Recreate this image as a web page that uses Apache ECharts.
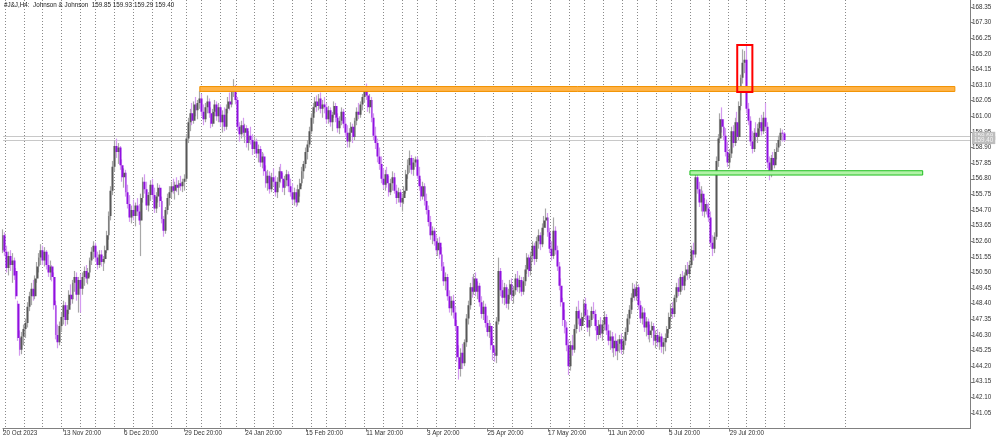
<!DOCTYPE html>
<html><head><meta charset="utf-8">
<script src="https://cdn.jsdelivr.net/npm/echarts@6/dist/echarts.min.js"></script>
<style>html,body{margin:0;padding:0;background:#fff}#c{width:1000px;height:441px}</style>
</head><body><div id="c"></div>
<script>
// H4 bars, 20 Oct 2023 .. 19 Aug 2024 (one line per week)
const opens = [
152.0,153.0,151.9,150.8,151.6,151.0,151.3,150.6,148.4,146.1,145.3,
146.2,146.7,147.1,148.2,148.9,149.4,148.9,150.1,150.9,151.5,
152.0,151.3,151.9,151.0,150.5,150.9,150.2,148.3,146.3,145.8,
146.9,147.5,148.3,147.3,148.0,149.0,148.7,149.8,150.2,149.0,
150.0,149.4,150.2,150.6,150.1,150.5,151.3,151.9,
152.3,151.5,151.0,151.7,151.2,151.4,152.0,153.0,154.3,156.0,
157.6,159.0,158.6,158.9,157.7,156.9,157.2,155.9,155.1,154.2,
154.7,154.3,155.0,154.6,154.0,155.5,156.6,156.1,155.0,155.7,
156.4,155.7,154.8,155.6,156.2,155.3,154.1,153.3,154.7,155.5,
155.9,156.3,156.0,156.4,156.2,156.5,156.3,156.6,
156.8,159.5,160.6,161.2,160.7,161.8,161.4,161.9,
162.2,161.3,160.8,161.6,162.0,161.2,160.5,161.3,161.8,161.0,
161.6,160.6,161.1,160.3,161.5,162.0,161.8,162.7,
162.9,162.1,160.3,159.8,160.4,159.9,160.2,159.2,159.7,159.4,
158.8,159.3,158.5,158.8,157.9,158.3,157.3,156.5,157.0,156.1,
156.9,156.6,155.9,156.6,157.3,156.8,156.2,156.7,157.1,156.3,
155.9,155.4,155.9,155.2,156.1,156.5,157.3,157.8,158.6,159.1,
160.0,160.9,161.6,162.0,161.7,162.2,161.5,161.8,
161.6,160.8,161.4,160.6,161.1,161.7,160.9,160.2,160.7,161.3,
160.5,159.9,159.3,159.9,160.3,159.6,160.7,161.3,161.1,161.8,
162.3,162.7,162.4,161.6,162.1,160.9,159.7,159.2,158.3,157.8,
156.8,156.4,157.1,156.5,155.9,156.5,156.9,156.0,155.5,155.9,
155.2,155.5,156.0,157.1,157.7,158.2,157.4,157.9,
158.1,157.0,156.3,155.6,156.3,155.3,154.7,153.9,153.0,153.3,
152.6,152.0,152.5,151.7,150.9,149.9,150.2,148.9,148.1,148.6,
147.8,146.9,144.8,144.0,145.1,144.4,145.8,147.4,148.3,149.5,
149.2,150.1,149.2,149.6,148.5,147.7,148.2,147.1,146.5,146.9,
145.6,145.1,144.9,147.2,150.6,149.3,148.8,149.5,148.4,149.0,
149.7,148.9,149.3,150.1,149.5,150.0,149.2,149.9,150.7,151.5,
150.6,151.6,152.3,151.4,152.6,153.0,152.4,153.5,154.0,154.2,
153.2,152.1,151.6,153.3,152.0,150.9,149.6,148.5,147.3,146.8,
145.6,144.2,145.6,145.3,146.7,147.9,147.4,146.9,
147.5,148.4,147.6,146.8,147.3,147.9,147.7,146.9,146.3,147.0,
146.4,147.0,147.5,146.6,145.9,146.2,145.4,145.9,145.2,145.7,
146.0,145.3,145.9,146.5,147.4,148.0,148.8,149.4,
148.9,149.5,148.3,147.4,147.8,146.8,147.2,146.3,146.6,146.9,
145.9,146.3,145.8,146.2,145.5,145.8,146.1,146.7,
147.5,148.1,147.7,148.8,149.5,149.2,150.2,149.6,150.3,150.7,
150.4,151.0,152.0,151.7,156.9,156.1,155.2,155.8,154.6,155.1,
154.8,154.2,152.5,152.1,152.9,158.0,159.5,160.8,160.3,159.7,
158.6,157.9,158.5,160.0,159.2,160.6,159.6,161.7,163.6,164.6,
164.8,161.5,160.7,159.3,158.8,159.9,159.6,160.2,160.6,160.0,
160.9,160.3,157.9,157.1,158.2,157.7,158.6,158.9,159.4,159.9,159.85
];
const highs = [
153.4,153.2,152.3,151.9,152.0,151.8,151.5,150.8,148.6,146.6,146.5,
147.0,147.4,148.5,149.2,149.8,150.0,150.3,151.2,151.8,152.4,
152.3,152.2,152.0,151.7,151.3,151.0,150.5,148.6,147.0,147.2,
147.8,148.6,148.5,148.3,149.3,149.7,150.0,150.6,150.5,150.2,
150.4,150.5,150.9,151.0,150.8,151.5,152.2,152.6,
152.5,151.9,152.0,152.0,151.6,152.3,153.3,154.6,156.3,158.0,
159.4,159.5,159.2,159.0,158.1,157.5,157.4,156.4,155.7,155.0,
155.4,155.2,155.5,155.1,155.8,156.9,157.1,156.6,155.9,156.7,
156.8,156.2,155.9,156.5,156.4,155.6,154.3,154.9,155.8,156.3,
156.6,156.8,156.6,156.9,156.7,157.0,156.8,157.1,
159.8,160.9,161.5,161.9,162.0,162.3,162.1,162.7,
162.5,161.8,161.9,162.4,162.2,161.6,161.5,162.1,162.0,161.9,
161.8,161.4,161.6,161.8,162.3,162.6,163.0,163.5,
163.1,162.3,160.6,160.7,160.9,160.5,160.4,160.0,160.3,159.8,
159.6,159.5,159.1,159.0,158.6,158.5,157.7,157.4,157.3,157.2,
157.5,157.0,156.9,157.6,157.8,157.2,157.0,157.4,157.3,156.8,
156.5,156.2,156.1,156.4,156.8,157.6,158.0,158.9,159.4,160.3,
161.2,161.9,162.3,162.4,162.5,162.6,162.1,162.3,
161.9,161.7,161.6,161.3,162.0,161.9,161.2,161.0,161.6,161.5,
160.9,160.4,160.2,160.6,160.5,160.9,161.6,161.9,162.0,162.5,
163.0,163.2,162.8,162.5,162.3,161.2,160.3,159.5,158.9,158.3,
157.5,157.4,157.6,157.0,156.8,157.3,157.2,156.4,156.2,156.1,
155.8,156.3,157.4,158.1,158.7,158.4,158.2,158.3,
158.3,157.6,156.8,156.6,156.5,155.8,155.0,154.3,153.6,153.5,
153.0,152.8,152.9,152.2,151.2,150.5,150.4,149.3,148.9,149.0,
148.2,147.3,145.6,145.4,145.7,146.0,147.7,148.6,149.8,150.2,
150.4,150.5,149.9,149.8,148.9,148.6,148.4,147.6,147.3,147.1,
146.2,145.4,147.5,151.5,150.8,150.0,149.8,149.7,149.4,150.0,
150.1,149.6,150.4,150.6,150.3,150.2,150.2,151.0,151.8,151.7,
151.9,152.6,152.5,152.9,153.4,153.2,153.8,154.3,154.8,154.5,
153.5,152.6,154.2,153.6,152.3,151.2,150.1,148.8,148.0,147.2,
146.0,145.9,146.3,147.0,148.2,148.6,148.0,147.8,
148.7,148.8,148.0,147.6,148.2,148.5,148.0,147.3,147.3,147.5,
147.3,147.9,147.7,147.0,146.6,146.5,146.2,146.4,146.0,146.3,
146.4,146.2,146.8,147.7,148.3,149.1,149.8,149.7,
149.9,149.7,148.6,148.2,148.1,147.5,147.4,147.0,147.2,147.1,
146.6,146.7,146.5,146.4,146.1,146.4,146.9,147.8,
148.4,148.5,149.0,149.8,150.1,150.4,150.6,150.5,151.0,151.2,
151.3,152.3,152.5,157.3,157.2,156.6,156.3,156.0,155.5,155.4,
155.2,154.6,153.0,153.2,158.3,159.8,161.2,161.6,160.8,160.2,
159.3,158.8,160.3,160.4,160.9,161.3,162.0,163.8,165.5,165.4,
165.8,161.9,161.0,160.0,160.2,160.6,160.5,160.9,161.1,161.3,
161.9,160.6,158.3,158.4,158.6,158.8,159.2,159.7,160.2,160.1,159.93
];
const lows = [
151.8,151.6,150.5,150.3,150.6,149.8,150.0,148.7,145.9,144.9,145.0,
145.6,146.1,146.8,147.9,148.3,148.6,148.7,149.8,150.5,151.0,
151.0,150.9,150.7,150.2,150.0,149.9,148.0,146.0,145.4,145.6,
146.5,147.0,146.9,147.0,147.7,148.3,148.4,149.2,148.6,147.8,
147.8,149.0,149.6,149.8,149.7,150.2,151.0,151.4,
151.2,150.7,150.8,150.9,150.6,151.1,151.8,152.7,154.0,155.7,
157.3,158.2,157.8,157.4,156.6,156.2,155.6,154.8,153.9,153.8,
154.0,153.6,154.3,153.7,151.6,155.2,155.8,154.7,154.6,155.3,
155.4,154.5,154.5,155.2,154.9,153.8,152.9,153.1,154.4,155.0,
155.5,155.8,155.4,155.9,155.7,156.0,155.9,156.0,
156.6,159.2,160.0,160.4,160.5,161.0,160.8,161.5,
161.0,160.4,160.6,161.2,160.9,160.2,160.3,161.0,160.7,160.6,
160.3,159.9,160.0,160.1,161.2,161.4,161.6,162.3,
161.8,160.0,159.3,159.5,159.6,159.2,158.9,158.7,159.1,158.4,
158.5,158.2,157.9,157.6,157.5,157.0,156.2,156.0,155.8,155.9,
156.3,155.6,155.5,156.2,156.5,155.9,155.7,156.3,155.9,155.6,
155.1,155.0,154.9,155.0,155.6,156.3,156.8,157.5,158.1,158.9,
159.8,160.5,161.2,161.3,161.4,161.2,160.9,161.2,
160.5,160.5,160.3,160.0,160.9,160.6,159.9,159.8,160.4,160.2,
159.6,158.9,158.9,159.3,159.2,159.4,160.4,160.8,160.9,161.4,
161.9,162.1,161.3,161.2,160.6,159.4,158.8,157.9,157.4,156.5,
156.1,156.0,156.2,155.6,155.7,156.0,155.8,155.1,155.2,154.9,
154.6,155.1,155.8,156.8,157.2,157.1,157.0,157.6,
156.8,156.0,155.3,155.4,155.0,154.4,153.6,152.7,152.4,152.3,
151.7,151.6,151.4,150.6,149.6,149.3,148.6,147.8,147.6,147.4,
146.6,144.5,143.3,143.5,144.0,144.2,145.5,147.0,148.0,148.8,
149.0,148.9,148.7,148.2,147.4,147.3,146.8,146.2,146.1,145.3,
144.6,144.5,144.4,147.0,148.9,148.4,148.3,148.1,148.0,148.7,
148.6,148.4,149.0,149.2,149.1,148.9,149.0,149.6,150.4,150.2,
150.3,151.2,151.0,151.2,152.1,152.0,152.2,153.0,153.5,152.9,
151.8,151.3,151.4,151.7,150.6,149.3,148.2,146.9,146.4,145.2,
143.6,143.9,144.9,145.1,146.4,147.0,146.5,146.6,
147.2,147.3,146.5,146.2,146.9,147.4,146.6,145.9,146.0,146.1,
145.9,146.6,146.3,145.6,145.3,145.1,144.8,144.9,144.6,145.1,
145.0,145.0,145.6,146.3,147.0,147.7,148.5,148.6,
148.6,148.0,147.1,147.0,146.5,146.2,146.0,145.8,146.1,145.6,
145.4,145.5,145.3,145.1,145.0,145.2,145.8,146.4,
147.2,147.4,147.5,148.5,148.9,149.0,149.3,149.3,149.9,150.0,
150.1,150.8,151.3,151.5,155.8,154.9,154.6,154.3,154.2,154.4,
153.9,152.2,151.6,151.8,152.7,157.6,159.2,159.9,159.4,158.3,
157.6,157.5,158.2,158.9,159.0,159.2,159.4,161.4,163.2,163.9,
161.2,160.4,159.0,158.5,158.6,159.3,159.2,159.7,159.7,159.8,
160.0,157.5,156.7,156.9,157.4,157.5,158.1,158.6,159.0,159.3,159.29
];
const closes = [
153.0,151.9,150.8,151.6,151.0,151.3,150.3,148.9,146.1,145.3,146.2,
146.7,147.1,148.2,148.9,149.4,148.9,150.1,150.9,151.5,152.0,
151.3,151.9,151.0,150.5,150.9,150.2,148.3,146.3,145.8,146.9,
147.5,148.3,147.3,148.0,149.0,148.7,149.8,150.2,149.0,150.0,
149.4,150.2,150.6,150.1,150.5,151.3,151.9,152.3,
151.5,151.0,151.7,151.2,151.4,152.0,153.0,154.3,156.0,157.6,
159.0,158.6,158.9,157.7,156.9,157.2,155.9,155.1,154.2,154.7,
154.3,155.0,154.6,154.0,155.5,156.6,156.1,155.0,155.7,156.4,
155.7,154.8,155.6,156.2,155.3,154.1,153.3,154.7,155.5,155.9,
156.3,156.0,156.4,156.2,156.5,156.3,156.6,156.8,
159.5,160.6,161.2,160.7,161.8,161.4,161.9,162.2,
161.3,160.8,161.6,162.0,161.2,160.5,161.3,161.8,161.0,161.6,
160.6,161.1,160.3,161.5,162.0,161.8,162.7,162.9,
162.1,160.3,159.8,160.4,159.9,160.2,159.2,159.7,159.4,158.8,
159.3,158.5,158.8,157.9,158.3,157.3,156.5,157.0,156.1,156.9,
156.6,155.9,156.6,157.3,156.8,156.2,156.7,157.1,156.3,155.9,
155.4,155.9,155.2,156.1,156.5,157.3,157.8,158.6,159.1,160.0,
160.9,161.6,162.0,161.7,162.2,161.5,161.8,161.6,
160.8,161.4,160.6,161.1,161.7,160.9,160.2,160.7,161.3,160.5,
159.9,159.3,159.9,160.3,159.6,160.7,161.3,161.1,161.8,162.3,
162.7,162.4,161.6,162.1,160.9,159.7,159.2,158.3,157.8,156.8,
156.4,157.1,156.5,155.9,156.5,156.9,156.0,155.5,155.9,155.2,
155.5,156.0,157.1,157.7,158.2,157.4,157.9,158.1,
157.0,156.3,155.6,156.3,155.3,154.7,153.9,153.0,153.3,152.6,
152.0,152.5,151.7,150.9,149.9,150.2,148.9,148.1,148.6,147.8,
146.9,144.8,144.0,145.1,144.4,145.8,147.4,148.3,149.5,149.2,
150.1,149.2,149.6,148.5,147.7,148.2,147.1,146.5,146.9,145.6,
145.1,144.9,147.2,150.6,149.3,148.8,149.5,148.4,149.0,149.7,
148.9,149.3,150.1,149.5,150.0,149.2,149.9,150.7,151.5,150.6,
151.6,152.3,151.4,152.6,153.0,152.4,153.5,154.0,154.2,153.2,
152.1,151.6,153.3,152.0,150.9,149.6,148.5,147.3,146.8,145.6,
144.2,145.6,145.3,146.7,147.9,147.4,146.9,147.5,
148.4,147.6,146.8,147.3,147.9,147.7,146.9,146.3,147.0,146.4,
147.0,147.5,146.6,145.9,146.2,145.4,145.9,145.2,145.7,146.0,
145.3,145.9,146.5,147.4,148.0,148.8,149.4,148.9,
149.5,148.3,147.4,147.8,146.8,147.2,146.3,146.6,146.9,145.9,
146.3,145.8,146.2,145.5,145.8,146.1,146.7,147.5,
148.1,147.7,148.8,149.5,149.2,150.2,149.6,150.3,150.7,150.4,
151.0,152.0,151.7,156.9,156.1,155.2,155.8,154.6,155.1,154.8,
154.2,152.5,152.1,152.9,158.0,159.5,160.8,160.3,159.7,158.6,
157.9,158.5,160.0,159.2,160.6,159.6,161.7,163.6,164.6,164.8,
161.5,160.7,159.3,158.8,159.9,159.6,160.2,160.6,160.0,160.9,
160.3,157.9,157.1,158.2,157.7,158.6,158.9,159.4,159.9,159.85,159.40
];

// time axis: bar slots (candles + empty shift area on the right)
const slotCount = 512;
const tickLabels = ['20 Oct 2023','13 Nov 20:00','6 Dec 20:00','29 Dec 20:00','24 Jan 20:00','15 Feb 20:00','11 Mar 20:00','3 Apr 20:00','25 Apr 20:00','17 May 20:00','11 Jun 20:00','5 Jul 20:00','29 Jul 20:00'];
const tickBars = [0,32,64,96,128,160,192,224,256,288,320,352,384];
const weekStarts = [1,11,21,31,41,49,59,69,79,89,97,105,115,123,133,143,153,163,171,181,191,201,211,219,229,239,249,259,269,279,289,299,307,317,327,335,345,353,363,373,383,393,403,413,445];

// drawn objects
const orangeZone = {from: 104, to: 503, low: 162.67, high: 163.00};
const greenZone  = {from: 363, to: 486, low: 157.05, high: 157.34};
const redBox     = {from: 388, to: 396, low: 162.63, high: 165.79};
const bidPrice = 159.40, askPrice = 159.69;
const headerText = '#J&J,H4:  Johnson & Johnson  159.85 159.93 159.29 159.40';

const categories = Array.from({length: slotCount}, (_, i) => String(i));
const ohlc = opens.map((o, i) => [o, closes[i], lows[i], highs[i]]);
const tickMap = {}; tickBars.forEach((b, k) => tickMap[b] = tickLabels[k]);
const weekSet = new Set(weekStarts);

const FONT = 'Liberation Sans, Arial, sans-serif';
const chart = echarts.init(document.getElementById('c'), null, {renderer: 'canvas'});
chart.setOption({
  animation: false,
  backgroundColor: '#ffffff',
  title: {text: headerText, left: 4, top: 2, padding: 0,
    textStyle: {fontSize: 6.3, fontWeight: 'normal', color: '#222', fontFamily: FONT}},
  grid: {left: 1, right: 30, top: 0, bottom: 12.4, containLabel: false},
  xAxis: {
    type: 'category', data: categories, boundaryGap: false,
    axisLine: {show: true, lineStyle: {color: '#808080', width: 1}},
    axisTick: {show: true, length: 3, interval: (i) => tickMap[i] !== undefined, lineStyle: {color: '#808080'}},
    axisLabel: {interval: (i) => tickMap[i] !== undefined, formatter: (v, i) => tickMap[i] || '',
      align: 'left', margin: 2, fontSize: 6.3, color: '#333', fontFamily: FONT},
    splitLine: {show: true, interval: (i) => weekSet.has(i), lineStyle: {color: '#8a8a8a', width: 1, type: [1, 2]}}
  },
  yAxis: {
    type: 'value', position: 'right', min: 140.0, max: 168.82, interval: 1.05, scale: true,
    axisLine: {show: true, lineStyle: {color: '#808080', width: 1}},
    axisTick: {show: true, length: 3, lineStyle: {color: '#808080'}},
    axisLabel: {showMinLabel: false, showMaxLabel: false, formatter: (v) => v.toFixed(2),
      margin: 2, fontSize: 6.3, color: '#333', fontFamily: FONT},
    splitLine: {show: false}
  },
  series: [
    { // wicks
      type: 'candlestick', data: ohlc, barWidth: 1, z: 2,
      itemStyle: {color: '#a8a8a8', color0: '#d49af0', borderColor: '#a8a8a8', borderColor0: '#d49af0', borderColorDoji: '#a8a8a8', borderWidth: 1.2}
    },
    { // bodies
      type: 'candlestick', data: ohlc, barWidth: 2.4, z: 3,
      itemStyle: {color: '#575757', color0: '#9010e0', borderColor: '#575757', borderColor0: '#9010e0', borderColorDoji: '#575757', borderWidth: 0},
      markArea: {
        silent: true, z: 4,
        data: [
          [{xAxis: orangeZone.from, yAxis: orangeZone.high, itemStyle: {color: '#ffb347', borderColor: '#f29200', borderWidth: 1}},
           {xAxis: orangeZone.to, yAxis: orangeZone.low}],
          [{xAxis: greenZone.from, yAxis: greenZone.high, itemStyle: {color: '#b2f2a8', borderColor: '#1fbf1f', borderWidth: 1}},
           {xAxis: greenZone.to, yAxis: greenZone.low}],
          [{xAxis: redBox.from, yAxis: redBox.high, itemStyle: {color: 'rgba(0,0,0,0)', borderColor: '#ff0000', borderWidth: 2}},
           {xAxis: redBox.to, yAxis: redBox.low}]
        ]
      },
      markLine: {
        silent: true, symbol: ['none', 'none'], z: 1,
        lineStyle: {color: '#c8c8c8', width: 1, type: 'solid'},
        label: {show: true, position: 'end', distance: 2, fontSize: 6.3, fontFamily: FONT, color: '#f4f4f4',
          backgroundColor: '#bdbdbd', padding: [1, 2], formatter: (p) => p.value.toFixed(2)},
        data: [{yAxis: askPrice}, {yAxis: bidPrice}]
      }
    }
  ]
});
</script>
</body></html>
